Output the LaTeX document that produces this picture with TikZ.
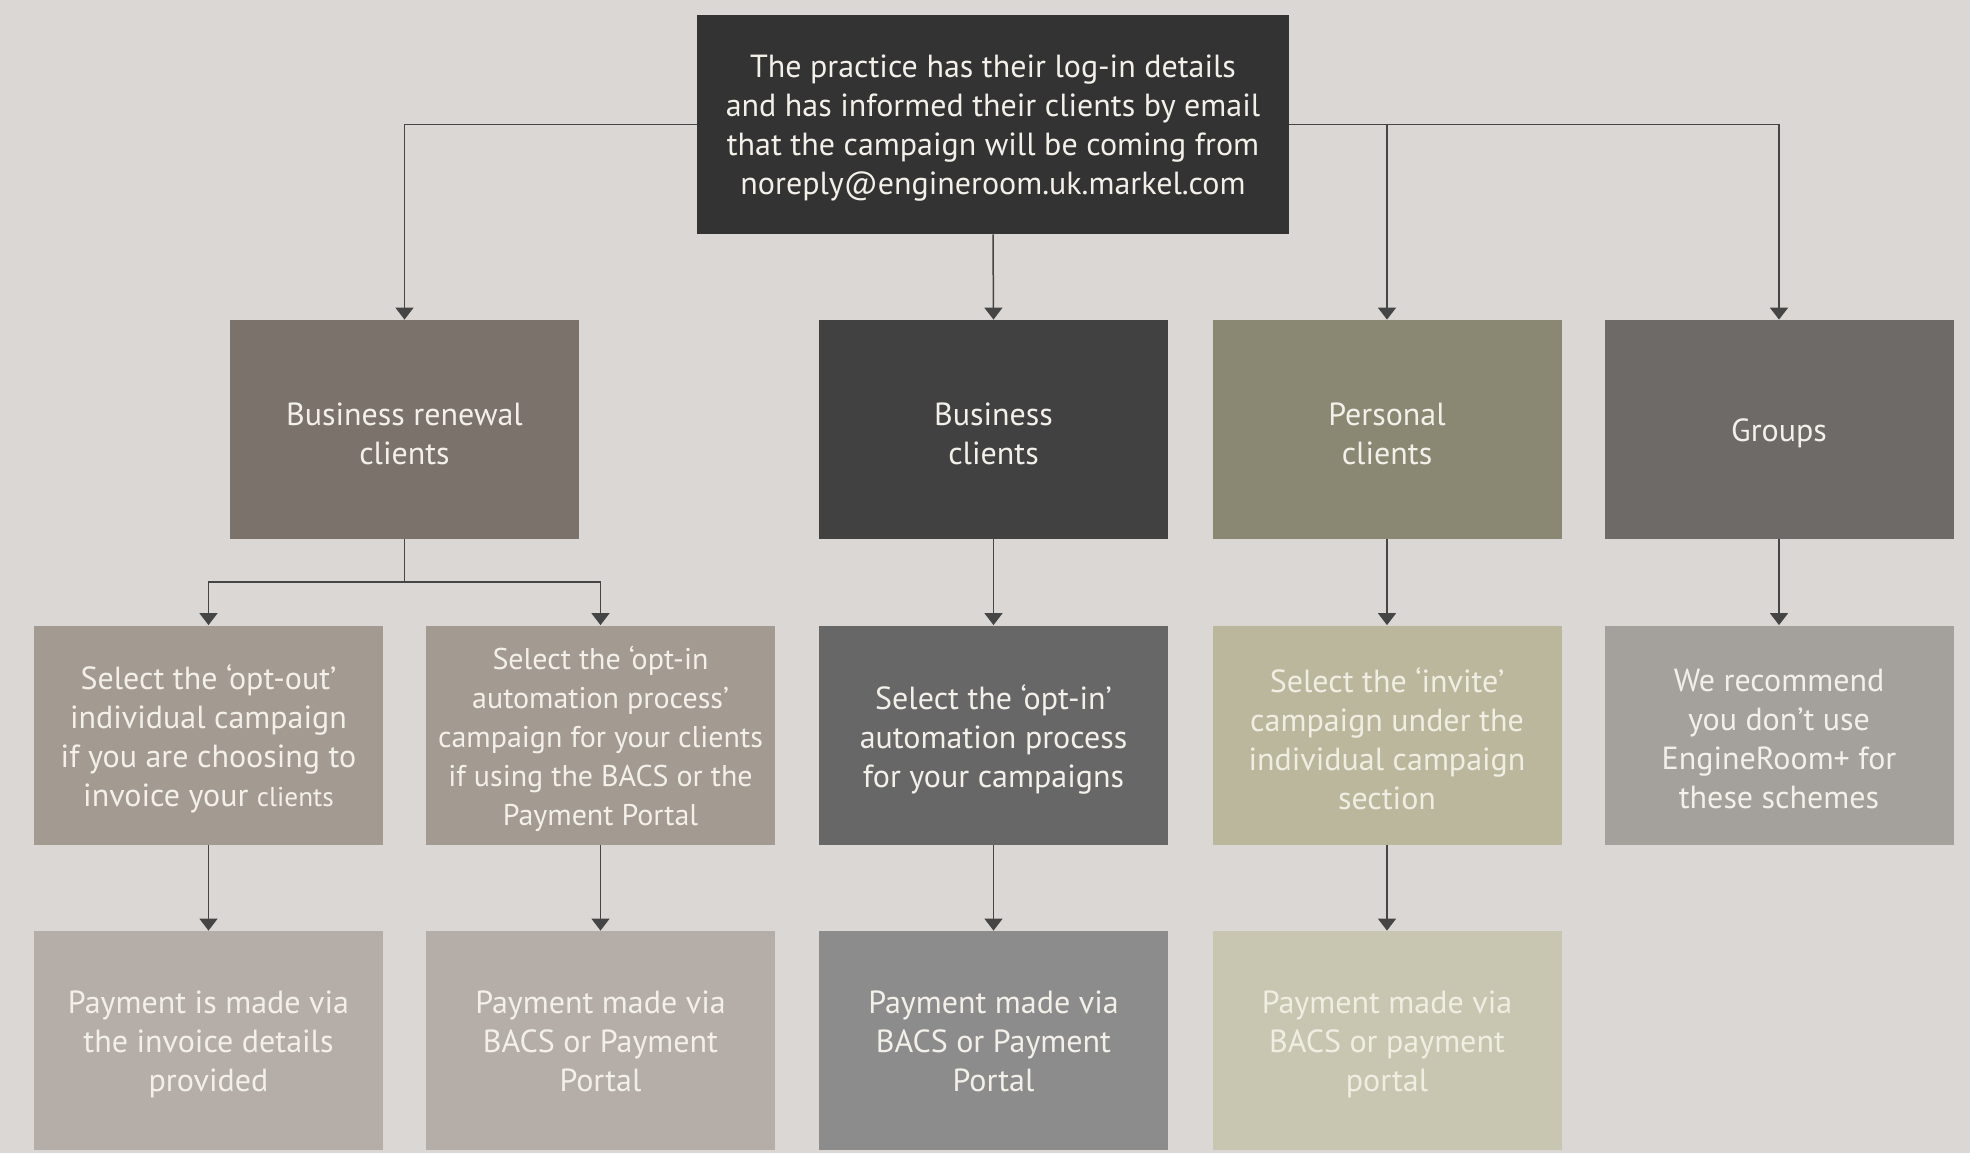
\documentclass[tikz,border=0pt]{standalone}
\usepackage{fontspec}
\setmainfont{PT Sans}
\usetikzlibrary{arrows.meta}
\definecolor{bg}{HTML}{DBD7D4}
\definecolor{txt}{HTML}{F3F0EA}
\definecolor{txtl}{HTML}{F0EEE2}
\definecolor{ln}{HTML}{454545}
\definecolor{ctop}{HTML}{333333}
\definecolor{cbr}{HTML}{7A726B}
\definecolor{cbc}{HTML}{414141}
\definecolor{cpc}{HTML}{8A8873}
\definecolor{cgr}{HTML}{6E6A68}
\definecolor{coo}{HTML}{A39A91}
\definecolor{csoi}{HTML}{676767}
\definecolor{cinv}{HTML}{BAB79C}
\definecolor{crec}{HTML}{A4A09C}
\definecolor{cpay}{HTML}{B5ADA8}
\definecolor{cpaym}{HTML}{8C8C8C}
\definecolor{cpayp}{HTML}{C8C6B0}
\begin{document}
\begin{tikzpicture}[x=0.5pt,y=-0.5pt,
  box/.style={minimum width=174.5pt, minimum height=109.5pt, inner sep=0pt},
  lbl/.style={inner sep=0pt, align=center, text=txt, font=\fontsize{16}{19.5}\selectfont},
  arr/.style={draw=ln, line width=0.75pt, -{Triangle[width=9pt,length=6pt]}},
  conn/.style={draw=ln, line width=0.75pt}]
\fill[bg] (0,0) rectangle (1970,1153);
\node[box, fill=ctop, minimum width=296pt] (top) at (993,124.5) {};
\node[lbl] (topt) at ([yshift=-2pt]top.center) {The practice has their log-in details\\and has informed their clients by email\\that the campaign will be coming from\\noreply@engineroom.uk.markel.com};
\node[box, fill=cbr] (br) at (404.5,429.5) {};
\node[lbl] (brt) at ([yshift=-2pt]br.center) {Business renewal\\clients};
\node[box, fill=cbc] (bc) at (993.5,429.5) {};
\node[lbl] (bct) at ([yshift=-2pt]bc.center) {Business\\clients};
\node[box, fill=cpc] (pc) at (1387,429.5) {};
\node[lbl] (pct) at ([yshift=-2pt]pc.center) {Personal\\clients};
\node[box, fill=cgr] (gr) at (1779,429.5) {};
\node[lbl] (grt) at ([yshift=-2pt]gr.center) {Groups};
\node[box, fill=coo] (oo) at (208.5,735) {};
\node[lbl] (oot) at ([yshift=-2pt]oo.center) {Select the ‘opt-out’\\individual campaign\\if you are choosing to\\invoice your {\fontsize{13.6}{19.5}\selectfont clients}};
\node[box, fill=coo] (oi) at (600.5,735) {};
\node[lbl, font=\fontsize{15}{19.5}\selectfont] (oit) at ([yshift=-2pt]oi.center) {Select the ‘opt-in\\automation process’\\campaign for your clients\\if using the BACS or the\\Payment Portal};
\node[box, fill=csoi] (soi) at (993.5,735) {};
\node[lbl] (soit) at ([yshift=-2pt]soi.center) {Select the ‘opt-in’\\automation process\\for your campaigns};
\node[box, fill=cinv] (inv) at (1387,735) {};
\node[lbl, text=txtl] (invt) at ([yshift=-2pt]inv.center) {Select the ‘invite’\\campaign under the\\individual campaign\\section};
\node[box, fill=crec] (rec) at (1779,735) {};
\node[lbl] (rect) at ([yshift=-2pt]rec.center) {We recommend\\you don’t use\\EngineRoom+ for\\these schemes};
\node[box, fill=cpay] (p1) at (208.5,1040.5) {};
\node[lbl] (p1t) at ([yshift=-2pt]p1.center) {Payment is made via\\the invoice details\\provided};
\node[box, fill=cpay] (p2) at (600.5,1040.5) {};
\node[lbl] (p2t) at ([yshift=-2pt]p2.center) {Payment made via\\BACS or Payment\\Portal\vphantom{p}};
\node[box, fill=cpaym] (p3) at (993.5,1040.5) {};
\node[lbl] (p3t) at ([yshift=-2pt]p3.center) {Payment made via\\BACS or Payment\\Portal\vphantom{p}};
\node[box, fill=cpayp] (p4) at (1387,1040.5) {};
\node[lbl, text=txtl] (p4t) at ([yshift=-2pt]p4.center) {Payment made via\\BACS or payment\\portal};
\draw[arr] (top.west) -| (br.north);
\draw[arr] (top.east) -| (gr.north);
\draw[arr] (top.east) -| (pc.north);
\draw[arr] (top.south) -- (bc.north);
\coordinate (brs) at (404.5,582);
\draw[conn] (br.south) -- (brs);
\draw[arr] (brs) -| (oo.north);
\draw[arr] (brs) -| (oi.north);
\draw[arr] (bc.south) -- (soi.north);
\draw[arr] (pc.south) -- (inv.north);
\draw[arr] (gr.south) -- (rec.north);
\draw[arr] (oo.south) -- (p1.north);
\draw[arr] (oi.south) -- (p2.north);
\draw[arr] (soi.south) -- (p3.north);
\draw[arr] (inv.south) -- (p4.north);
\end{tikzpicture}
\end{document}
